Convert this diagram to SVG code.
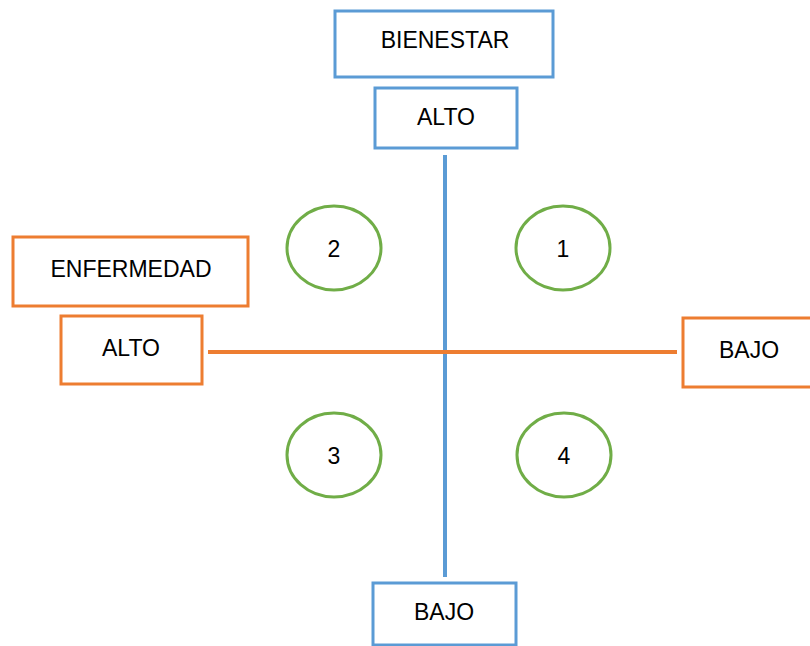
<svg xmlns="http://www.w3.org/2000/svg" width="810" height="646" viewBox="0 0 810 646">
<style>
.b{fill:#fff;stroke:#5B9BD5;stroke-width:3}
.o{fill:#fff;stroke:#ED7D31;stroke-width:3}
.c{fill:#fff;stroke:#70AD47;stroke-width:3}
text{font-family:"Liberation Sans",Arial,sans-serif;font-size:23px;fill:#000;text-anchor:middle;dominant-baseline:central}
</style>
<rect width="810" height="646" fill="#fff"/>
<g id="connectors">
<line x1="445" y1="155" x2="445" y2="577" stroke="#5B9BD5" stroke-width="4"/>
<line x1="208" y1="352" x2="677" y2="352" stroke="#ED7D31" stroke-width="4"/>
</g>
<g id="bienestar"><rect class="b" x="335" y="11" width="218" height="66"/><text x="445" y="40">BIENESTAR</text></g>
<g id="alto-top"><rect class="b" x="375" y="88" width="142" height="60"/><text x="446" y="117">ALTO</text></g>
<g id="bajo-bottom"><rect class="b" x="373" y="583" width="143" height="62"/><text x="444" y="612">BAJO</text></g>
<g id="enfermedad"><rect class="o" x="13" y="237" width="235" height="69"/><text x="131" y="269">ENFERMEDAD</text></g>
<g id="alto-left"><rect class="o" x="61" y="316" width="141" height="68"/><text x="131" y="348">ALTO</text></g>
<g id="bajo-right"><rect class="o" x="683" y="318" width="130" height="69"/><text x="749" y="350">BAJO</text></g>
<g id="q1"><ellipse class="c" cx="563" cy="248" rx="47" ry="42"/><text x="563" y="249">1</text></g>
<g id="q2"><ellipse class="c" cx="334" cy="248" rx="47" ry="42"/><text x="334" y="249">2</text></g>
<g id="q3"><ellipse class="c" cx="334" cy="455" rx="47" ry="42"/><text x="334" y="456">3</text></g>
<g id="q4"><ellipse class="c" cx="564" cy="455" rx="47" ry="42"/><text x="564" y="456">4</text></g>
</svg>
